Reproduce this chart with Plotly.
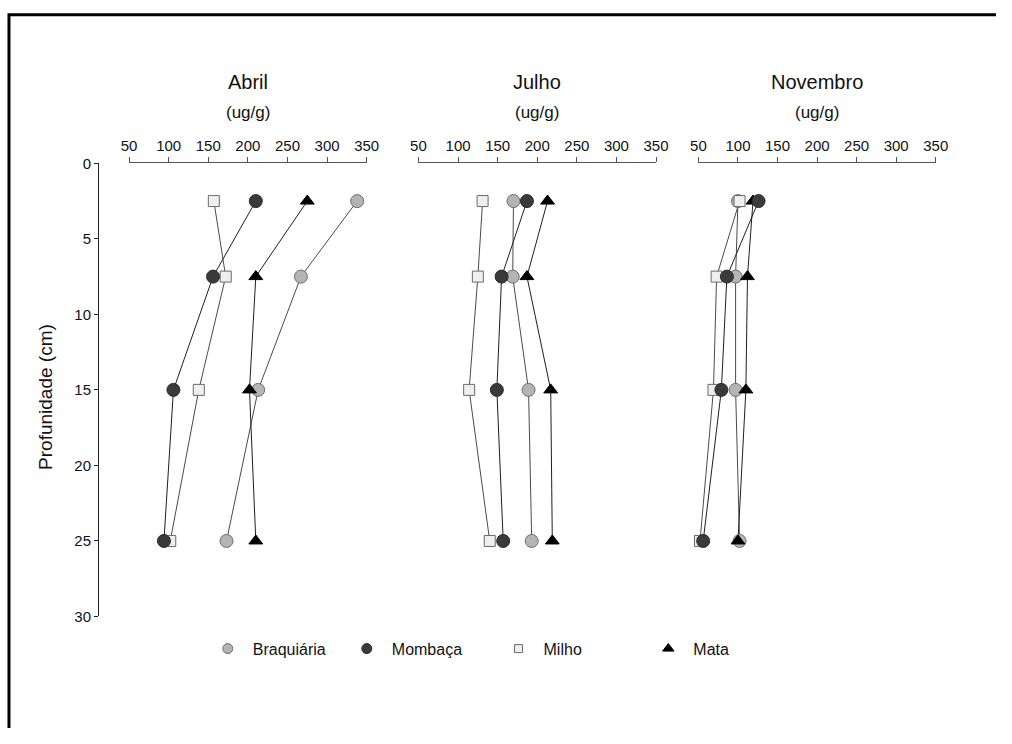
import plotly.graph_objects as go

# Sampling depths (cm)
depth = [2.5, 7.5, 15, 25]

# Concentrations (ug/g) per month and land use
abril_braquiaria = [338, 267, 213, 173]
abril_mombaca = [210, 156, 106, 94]
abril_milho = [157, 172, 138, 102]
abril_mata = [275, 210, 202, 210]

julho_braquiaria = [170, 169, 189, 193]
julho_mombaca = [187, 155, 149, 157]
julho_milho = [131, 125, 114, 140]
julho_mata = [213, 187, 217, 219]

novembro_braquiaria = [100, 97, 97, 102]
novembro_mombaca = [126, 86, 79, 56]
novembro_milho = [102, 73, 69, 52]
novembro_mata = [119, 112, 110, 100]

months = ["Abril", "Julho", "Novembro"]
unit_label = "(ug/g)"
series_names = ["Braquiária", "Mombaça", "Milho", "Mata"]
x_ticks = [50, 100, 150, 200, 250, 300, 350]
y_ticks = [0, 5, 10, 15, 20, 25, 30]

panel_values = [
    [abril_braquiaria, abril_mombaca, abril_milho, abril_mata],
    [julho_braquiaria, julho_mombaca, julho_milho, julho_mata],
    [novembro_braquiaria, novembro_mombaca, novembro_milho, novembro_mata],
]

# The html body keeps its default 8px margin, so the figure is sized to
# fill the 1012x744 page exactly inside that margin.
PAGE_W, PAGE_H = 1012, 744
PAGE_MARGIN = 8
W, H = PAGE_W - 2 * PAGE_MARGIN, PAGE_H - 2 * PAGE_MARGIN
FONT = "Liberation Sans, Arial, sans-serif"


def px(x):
    """page pixel x -> paper fraction"""
    return (x - PAGE_MARGIN) / W


def py(y):
    """page pixel y (from top) -> paper fraction"""
    return 1 - (y - PAGE_MARGIN) / H


styles = [
    dict(symbol="circle", size=13, color="#b4b4b4", line=dict(color="#6e6e6e", width=1)),
    dict(symbol="circle", size=13, color="#3a3a3a", line=dict(color="#2a2a2a", width=1)),
    dict(symbol="square", size=11, color="#efefef", line=dict(color="#6a6a6a", width=1)),
    dict(symbol="triangle-up", size=12, color="#000000", line=dict(color="#000000", width=1)),
]
line_colors = ["#4a4a4a", "#1e1e1e", "#4a4a4a", "#1e1e1e"]
legend_styles = [
    dict(symbol="circle", size=10, color="#b4b4b4", line=dict(color="#6e6e6e", width=1)),
    dict(symbol="circle", size=10, color="#3a3a3a", line=dict(color="#2a2a2a", width=1)),
    dict(symbol="square", size=8, color="#efefef", line=dict(color="#6a6a6a", width=1)),
    dict(symbol="triangle-up", size=10, color="#000000", line=dict(color="#000000", width=1)),
]

fig = go.Figure()
xaxis_ids = ["x", "x2", "x3"]

# connecting lines first
for p, values in enumerate(panel_values):
    for s, vals in enumerate(values):
        fig.add_trace(go.Scatter(
            x=vals, y=depth, mode="lines", xaxis=xaxis_ids[p], yaxis="y",
            line=dict(color=line_colors[s], width=1), showlegend=False,
            hoverinfo="skip", cliponaxis=False,
        ))

# markers on top: Braquiária, Milho, Mata, Mombaça (stacking order)
marker_order = [0, 2, 3, 1]
for p, values in enumerate(panel_values):
    for s in marker_order:
        fig.add_trace(go.Scatter(
            x=values[s], y=depth, mode="markers", xaxis=xaxis_ids[p], yaxis="y",
            marker=styles[s], name=series_names[s], showlegend=False,
            cliponaxis=False,
        ))

# legend entries (marker only)
legend_ids = ["legend", "legend2", "legend3", "legend4"]
for s, name in enumerate(series_names):
    fig.add_trace(go.Scatter(
        x=[None], y=[None], mode="markers", marker=legend_styles[s],
        name=name, legend=legend_ids[s], xaxis="x", yaxis="y",
    ))

axis_common = dict(
    range=[50, 350], tickvals=x_ticks, side="top", anchor="y",
    showline=True, linecolor="#555555", linewidth=1,
    ticks="outside", ticklen=5, tickcolor="#555555",
    showgrid=False, zeroline=False,
    tickfont=dict(family=FONT, size=15, color="#111111"),
)

domains = [(131.7, 374.4), (427.3, 670.0), (713.3, 955.7)]
layout = dict(
    width=W, height=H, margin=dict(l=0, r=0, t=0, b=0),
    paper_bgcolor="white", plot_bgcolor="white",
    font=dict(family=FONT, color="#111111"),
    yaxis=dict(
        range=[30, 0], tickvals=y_ticks, domain=[py(630), py(166)],
        anchor="free", position=px(100), side="left",
        showline=True, linecolor="#222222", linewidth=1,
        ticks="outside", ticklen=4, tickcolor="#222222",
        showgrid=False, zeroline=False,
        tickfont=dict(family=FONT, size=15, color="#111111"),
    ),
)
for i, (a, b) in enumerate(domains):
    key = "xaxis" if i == 0 else f"xaxis{i + 1}"
    layout[key] = dict(axis_common, domain=[px(a), px(b)])
fig.update_layout(**layout)

# legend placement (left edge of each entry)
legend_x = [207, 349, 504, 657]
for lid, lx in zip(legend_ids, legend_x):
    fig.update_layout({lid: dict(
        x=px(lx), y=py(663), xanchor="left", yanchor="middle",
        bgcolor="rgba(0,0,0,0)", borderwidth=0, itemwidth=40,
        font=dict(family=FONT, size=16, color="#111111"),
    )})

# panel titles and units
centers = [253, 548.6, 834]
for month, cx in zip(months, centers):
    fig.add_annotation(text=month, x=px(cx), y=py(83), xref="paper", yref="paper",
                       showarrow=False, font=dict(family=FONT, size=20, color="#111111"),
                       xanchor="center", yanchor="middle")
    fig.add_annotation(text=unit_label, x=px(cx), y=py(114), xref="paper", yref="paper",
                       showarrow=False, font=dict(family=FONT, size=17, color="#111111"),
                       xanchor="center", yanchor="middle")

fig.add_annotation(text="Profunidade (cm)", x=px(47), y=py(405), xref="paper", yref="paper",
                   showarrow=False, textangle=-90,
                   font=dict(family=FONT, size=19, color="#111111"),
                   xanchor="center", yanchor="middle")

# outer frame (right and bottom edges run past the figure)
fig.add_shape(type="rect", xref="paper", yref="paper",
              x0=px(9), y0=py(780), x1=px(1040), y1=py(14),
              line=dict(color="black", width=3), fillcolor="rgba(0,0,0,0)")

fig.write_html("out.html")
